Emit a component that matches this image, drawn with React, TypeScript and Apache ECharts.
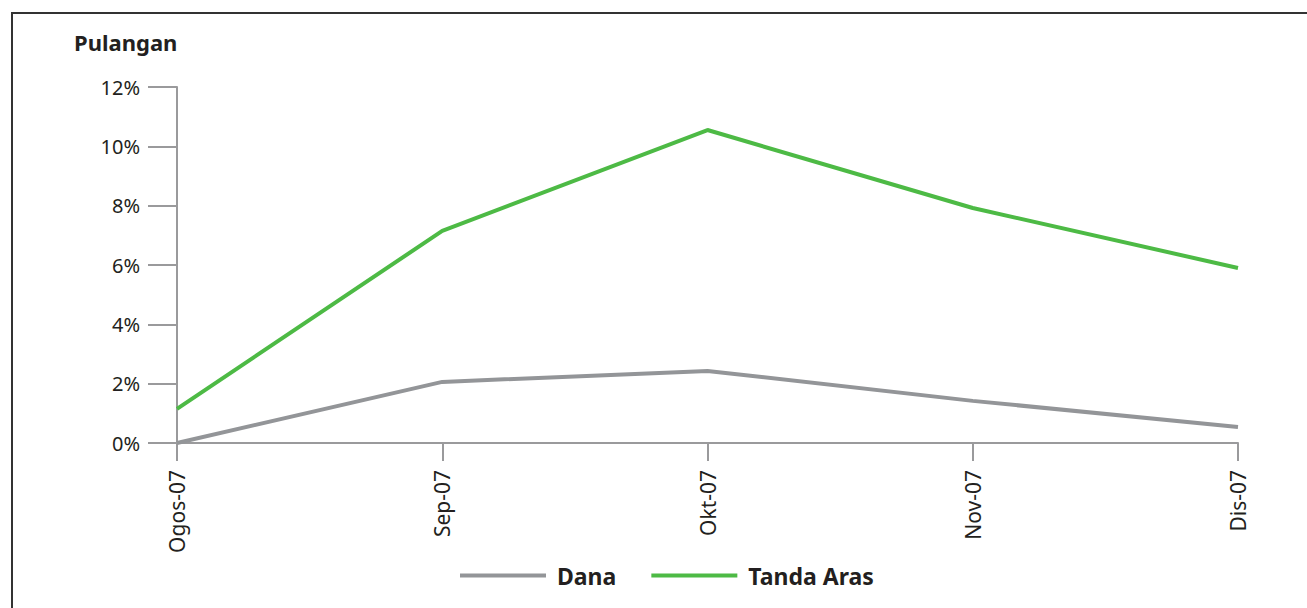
import React, { useEffect, useRef } from "react";
import * as echarts from "echarts";

const categories = ["Ogos-07", "Sep-07", "Okt-07", "Nov-07", "Dis-07"];
const danaValues = [0, 2.06, 2.43, 1.42, 0.54];
const tandaArasValues = [1.15, 7.15, 10.55, 7.92, 5.9];
const yTicks = [0, 2, 4, 6, 8, 10, 12];

const FONT = "'Noto Sans', 'Open Sans', sans-serif";

export default function App() {
  const ref = useRef<HTMLDivElement>(null);
  useEffect(() => {
    if (!ref.current) return;
    const chart = echarts.init(ref.current, undefined, { renderer: "svg" });
    chart.setOption({
      animation: false,
      backgroundColor: "#ffffff",
      graphic: [
        {
          type: "rect",
          shape: { x: 12, y: 13, width: 1310, height: 610 },
          style: { fill: "none", stroke: "#333333", lineWidth: 2 },
          silent: true,
        },
        {
          type: "text",
          left: 74,
          top: 31,
          style: {
            text: "Pulangan",
            font: `bold 22px ${FONT}`,
            fill: "#231f20",
          },
        },
      ],
      legend: {
        bottom: 21,
        left: 460,
        padding: 0,
        itemWidth: 86,
        itemHeight: 4,
        itemGap: 35,
        icon: "rect",
        textStyle: { fontFamily: FONT, fontSize: 23, fontWeight: "bold", color: "#231f20", padding: [0, 0, 0, 6] },
        data: ["Dana", "Tanda Aras"],
      },
      grid: { left: 177, right: 69, top: 87, bottom: 165, containLabel: false },
      xAxis: {
        type: "category",
        data: categories,
        boundaryGap: false,
        axisLine: { lineStyle: { color: "#9a9a9c", width: 2 } },
        axisTick: { show: true, length: 18, lineStyle: { color: "#9a9a9c", width: 2 } },
        axisLabel: { rotate: 90, margin: 27, fontFamily: FONT, fontSize: 21, color: "#231f20" },
      },
      yAxis: {
        type: "value",
        min: 0,
        max: 12,
        interval: 2,
        axisLine: { show: true, lineStyle: { color: "#9a9a9c", width: 2 } },
        axisTick: { show: true, length: 29, lineStyle: { color: "#9a9a9c", width: 2 } },
        splitLine: { show: false },
        axisLabel: {
          margin: 37,
          fontFamily: FONT,
          fontSize: 20,
          color: "#231f20",
          formatter: (v: number) => (yTicks.includes(v) ? `${v}%` : ""),
        },
      },
      series: [
        {
          name: "Dana",
          type: "line",
          data: danaValues,
          symbol: "none",
          lineStyle: { color: "#939598", width: 4 },
          itemStyle: { color: "#939598" },
        },
        {
          name: "Tanda Aras",
          type: "line",
          data: tandaArasValues,
          symbol: "none",
          lineStyle: { color: "#4dba45", width: 4 },
          itemStyle: { color: "#4dba45" },
        },
      ],
    });
    return () => chart.dispose();
  }, []);
  return (
    <div
      ref={ref}
      style={{ position: "fixed", left: 0, top: 0, width: 1307, height: 608 }}
    />
  );
}
